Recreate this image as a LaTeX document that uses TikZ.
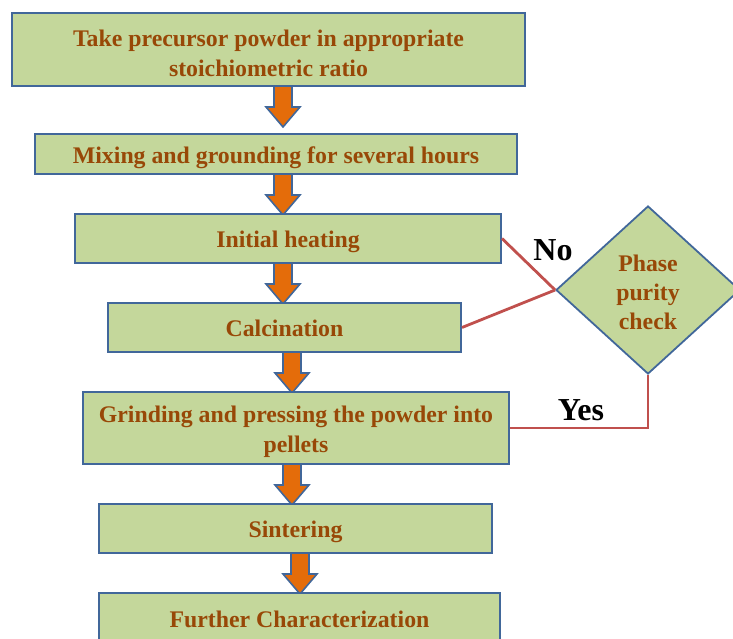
\documentclass[tikz,border=0pt]{standalone}
\usepackage{fontspec}
\setmainfont{Liberation Serif}
\usetikzlibrary{calc,shapes.geometric}
\definecolor{boxfill}{HTML}{C4D79B}
\definecolor{boxline}{HTML}{41679A}
\definecolor{txt}{HTML}{984807}
\definecolor{arrfill}{HTML}{E46C0A}
\definecolor{redline}{HTML}{C0504D}
\newcommand{\blockarrow}[3]{%
  \coordinate (t#1) at (#2,#3);
  \filldraw[blockarr] ($(t#1)+(-9,0)$) -- ++(0,21) -- ++(-8,0) -- ++(17,20) -- ++(17,-20) -- ++(-8,0) -- ++(0,-21);
}
\begin{document}
\begin{tikzpicture}[x=1pt,y=-1pt,
  box/.style={draw=boxline, line width=2pt, fill=boxfill, text=txt,
    font=\fontsize{23.8}{30}\selectfont\bfseries, align=center, inner sep=0pt,
    text height=23.4pt},
  twoline/.style={text height=53.4pt},
  decision/.style={diamond, draw=boxline, line width=1.8pt, fill=boxfill, text=txt,
    font=\fontsize{23.8}{29}\selectfont\bfseries, align=center, inner sep=0pt,
    text height=78.4pt, minimum width=184pt, minimum height=168pt},
  blockarr/.style={fill=arrfill, draw=boxline, line width=1.6pt, line join=miter},
  redl/.style={draw=redline, line width=2.8pt},
  lbl/.style={font=\fontsize{32}{34}\selectfont\bfseries, text=black, inner sep=0pt}]
\useasboundingbox (0,0) rectangle (733,639);
% arrows first (behind boxes)
\blockarrow{1}{283}{86}
\blockarrow{2}{283}{174}
\blockarrow{3}{283}{263}
\blockarrow{4}{292}{352}
\blockarrow{5}{292}{464}
\blockarrow{6}{300}{553}
% boxes
\node[box, twoline, minimum width=513pt, minimum height=73pt] (b1) at (268.5,49.5) {Take precursor powder in appropriate\\stoichiometric ratio};
\node[box, minimum width=482pt, minimum height=40pt] (b2) at (276,154) {Mixing and grounding for several hours};
\node[box, minimum width=426pt, minimum height=49pt] (b3) at (288,238.5) {Initial heating};
\node[box, text height=18.4pt, minimum width=353pt, minimum height=49pt] (b4) at (284.5,327.5) {Calcination};
\node[box, twoline, minimum width=426pt, minimum height=72pt] (b5) at (296,428) {Grinding and pressing the powder into\\pellets};
\node[box, minimum width=393pt, minimum height=49pt] (b6) at (295.5,528.5) {Sintering};
\node[box, text height=17pt, minimum width=401pt, minimum height=52pt] (b7) at (299.5,619) {Further Characterization};
% decision
\node[decision] (d) at (648,290) {Phase\\purity\\check};
% connectors
\draw[redl] (b3.east) -- (d.west);
\draw[redl] (b4.east) -- (d.west);
\draw[redl] (d.south) |- (b5.east);
\node[lbl] (no) at (553,250) {No};
\node[lbl] (yes) at (581,410) {Yes};
\end{tikzpicture}
\end{document}
